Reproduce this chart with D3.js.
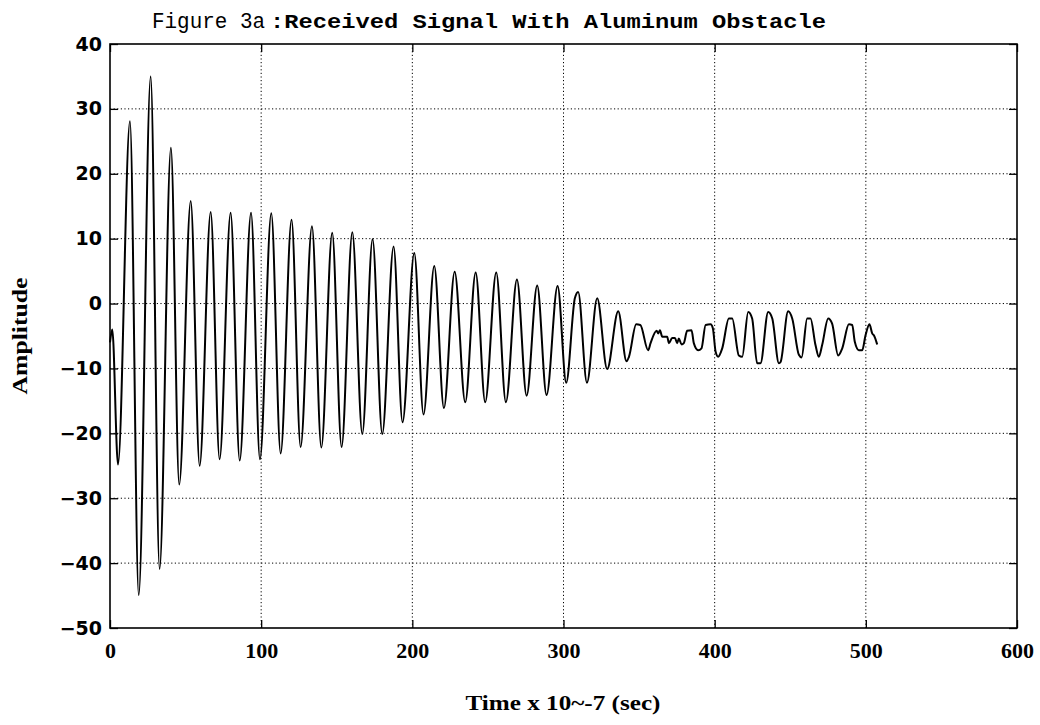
<!DOCTYPE html>
<html>
<head>
<meta charset="utf-8">
<script src="https://cdn.jsdelivr.net/npm/d3@7/dist/d3.min.js"></script>
<style>
  body { margin: 0; background: #fff; }
  svg { display: block; }
</style>
</head>
<body>
<svg width="1040" height="725"></svg>
<script>
var svg = d3.select("svg");

var width = +svg.attr("width");
var height = +svg.attr("height");

// values (time units of 1e-7 s, amplitude)
var time = [0, 1.5, 5.3, 13.2, 19.0, 26.9, 32.8, 40.3, 45.8, 53.4, 59.3, 66.6, 72.5, 79.8,
    85.8, 93.3, 99.2, 106.7, 112.9, 120.1, 126.1, 133.6, 139.8, 147.0, 153.2, 160.3, 166.9,
    173.7, 180.1, 187.6, 193.5, 201.3, 207.4, 214.5, 220.9, 228.0, 235.0, 241.9, 248.2,
    255.5, 261.9, 269.2, 275.6, 282.6, 288.8, 296.1, 301.8, 307.5, 309.7, 315.5, 322.3,
    328.9, 336.2, 341.7, 343.3, 348.1, 350.8, 356.0, 357.6, 361.6, 362.7, 363.8, 365.3,
    368.6, 369.7, 371.9, 373.7, 375.2, 376.3, 378.1, 379.6, 381.8, 384.7, 386.2, 389.1,
    391.3, 394.0, 397.3, 398.8, 400.6, 402.3, 405.0, 409.4, 411.6, 416.0, 418.2, 422.2,
    424.8, 428.1, 430.3, 435.4, 438.1, 442.5, 443.6, 448.6, 451.3, 455.7, 457.5, 461.2,
    463.4, 466.7, 468.9, 471.1, 475.1, 477.7, 481.7, 484.4, 488.8, 491.0, 492.7, 495.4,
    497.6, 499.8, 502.4, 504.2, 505.3, 507.5];
var amplitude = [-6, -4, -24.8, 28.1, -44.9, 35.0, -40.9, 24.0, -27.9, 15.8, -25.0, 14.1, -24.0, 14.0,
    -24.2, 14.0, -24.0, 13.9, -23.1, 12.9, -22.1, 11.9, -22.2, 10.9, -22.1, 11.0, -20.1,
    9.9, -20.1, 8.8, -18.3, 7.8, -17.1, 5.8, -16.1, 4.9, -15.2, 4.8, -15.2,
    4.8, -15.2, 3.7, -14.2, 2.8, -14.1, 2.7, -12.2, 0.8, 1.8, -12.2, 0.8,
    -10.1, -1.2, -8.9, -8.2, -3.2, -3.3, -7.2, -6.1, -4.2, -4.6, -4.1, -5.1,
    -5.1, -6.1, -5.3, -5.3, -6.1, -5.4, -6.3, -6.1, -4.2, -4.1, -6.1, -7.2,
    -6.9, -3.3, -3.2, -3.8, -7.4, -8.2, -6.9, -2.3, -2.3, -8.0, -8.2, -1.3,
    -2.3, -9.2, -9.2, -1.3, -2.3, -9.2, -9.0, -1.2, -2.3, -7.9, -8.3, -2.3,
    -2.3, -6.4, -8.2, -6.4, -2.3, -3.1, -8.0, -6.9, -3.2, -3.3, -5.9, -7.2,
    -7.2, -4.9, -3.2, -4.6, -4.9, -6.3];

var xTicks = [0, 100, 200, 300, 400, 500, 600];
var yTicks = [-50, -40, -30, -20, -10, 0, 10, 20, 30, 40];

var plotLeft = 110, plotRight = 1017, plotTop = 44, plotBottom = 628;

var x = d3.scaleLinear().domain([0, 600]).range([plotLeft, plotRight]);
var y = d3.scaleLinear().domain([-50, 40]).range([plotBottom, plotTop]);

svg.append("rect").attr("width", width).attr("height", height).style("fill", "#fff");

// dotted grid
var grid = svg.append("g").attr("class", "grid");
grid.selectAll(".gx").data(xTicks.slice(1, -1)).enter().append("line")
    .attr("x1", function (d) { return x(d); })
    .attr("x2", function (d) { return x(d); })
    .attr("y1", plotTop).attr("y2", plotBottom);
grid.selectAll(".gy").data(yTicks.slice(1, -1)).enter().append("line")
    .attr("y1", function (d) { return y(d); })
    .attr("y2", function (d) { return y(d); })
    .attr("x1", plotLeft).attr("x2", plotRight);
grid.selectAll("line")
    .style("stroke", "#000")
    .style("stroke-width", 1)
    .style("stroke-dasharray", "1.2,2.4");

// axes with inward ticks on all four sides
var axisStyle = function (g) {
    g.select(".domain").remove();
    g.selectAll(".tick line").style("stroke", "#000").style("stroke-width", 1.3);
};
svg.append("g").attr("transform", "translate(0," + plotBottom + ")")
    .call(d3.axisBottom(x).tickValues(xTicks).tickSize(-8).tickPadding(14).tickFormat(d3.format("d")))
    .call(axisStyle)
    .selectAll("text")
    .style("font-family", "Liberation Serif").style("font-weight", "bold")
    .style("font-size", "22px").style("fill", "#000");
svg.append("g").attr("transform", "translate(0," + plotTop + ")")
    .call(d3.axisTop(x).tickValues(xTicks).tickSize(-8).tickFormat(""))
    .call(axisStyle);
svg.append("g").attr("transform", "translate(" + plotLeft + ",0)")
    .call(d3.axisLeft(y).tickValues(yTicks).tickSize(-8).tickPadding(8)
        .tickFormat(function (d) { return d < 0 ? "\u2212" + (-d) : d; }))
    .call(axisStyle)
    .selectAll("text")
    .style("font-family", "DejaVu Sans").style("font-weight", "bold")
    .style("font-size", "19px").style("fill", "#000");
svg.append("g").attr("transform", "translate(" + plotRight + ",0)")
    .call(d3.axisRight(y).tickValues(yTicks).tickSize(-8).tickFormat(""))
    .call(axisStyle);

// frame
svg.append("rect")
    .attr("x", plotLeft).attr("y", plotTop)
    .attr("width", plotRight - plotLeft).attr("height", plotBottom - plotTop)
    .style("fill", "none").style("stroke", "#000").style("stroke-width", 1.6);

// the signal
var pts = time.map(function (t, i) { return [t, amplitude[i]]; });
var line = d3.line()
    .x(function (d) { return x(d[0]); })
    .y(function (d) { return y(d[1]); })
    .curve(d3.curveMonotoneX);
svg.append("path")
    .datum(pts)
    .attr("d", line)
    .style("fill", "none")
    .style("stroke", "#000")
    .style("stroke-width", 2)
    .style("stroke-linejoin", "round");

// title
var title = svg.append("text").attr("x", 152).attr("y", 28).style("fill", "#000");
title.append("tspan").text("Figure 3a")
    .attr("textLength", 113)
    .attr("lengthAdjust", "spacingAndGlyphs")
    .style("font-family", "Liberation Mono").style("font-size", "22px");
title.append("tspan").text(":Received Signal With Aluminum Obstacle")
    .attr("x", 270)
    .attr("textLength", 556)
    .attr("lengthAdjust", "spacingAndGlyphs")
    .style("font-family", "Liberation Mono").style("font-weight", "bold").style("font-size", "21px");

// axis labels
svg.append("text")
    .attr("transform", "translate(27," + ((plotTop + plotBottom) / 2) + ") rotate(-90)")
    .attr("text-anchor", "middle")
    .attr("textLength", 117)
    .attr("lengthAdjust", "spacingAndGlyphs")
    .style("font-family", "Liberation Serif").style("font-weight", "bold").style("font-size", "22px")
    .text("Amplitude");
svg.append("text")
    .attr("x", 563).attr("y", 710)
    .attr("text-anchor", "middle")
    .attr("textLength", 195)
    .attr("lengthAdjust", "spacingAndGlyphs")
    .style("font-family", "Liberation Serif").style("font-weight", "bold").style("font-size", "22px")
    .text("Time x 10~-7 (sec)");
</script>
</body>
</html>
